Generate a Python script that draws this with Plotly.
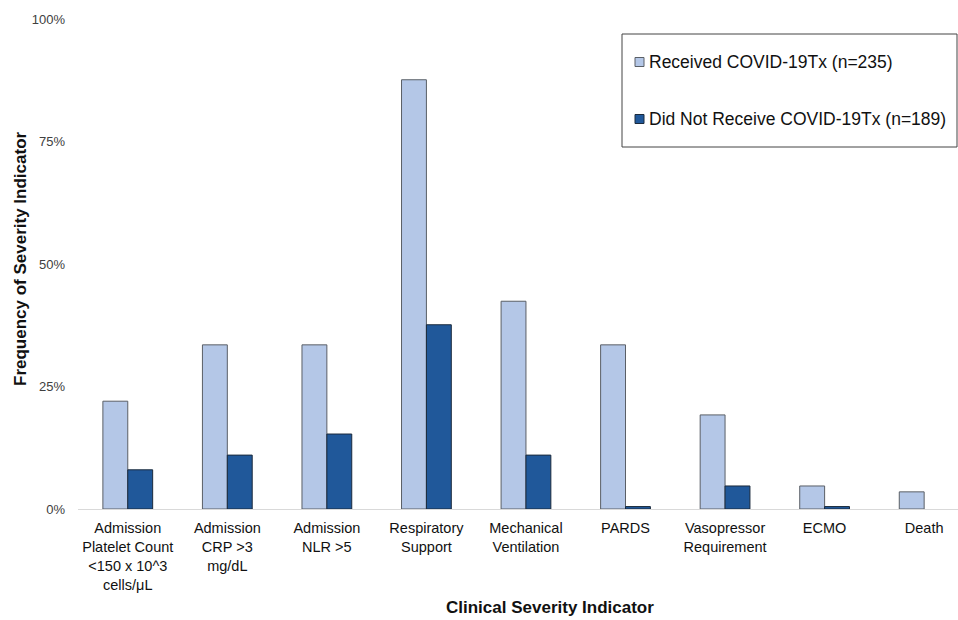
import plotly.graph_objects as go

categories = [
    "Admission<br>Platelet Count<br>&lt;150 x 10^3<br>cells/μL",
    "Admission<br>CRP &gt;3<br>mg/dL",
    "Admission<br>NLR &gt;5",
    "Respiratory<br>Support",
    "Mechanical<br>Ventilation",
    "PARDS",
    "Vasopressor<br>Requirement",
    "ECMO",
    "Death",
]
received = [22.0, 33.5, 33.5, 87.6, 42.4, 33.5, 19.2, 4.7, 3.5]
not_received = [8.0, 11.0, 15.3, 37.6, 11.0, 0.5, 4.7, 0.5, 0.0]
series_names = ["Received COVID-19Tx (n=235)", "Did Not Receive COVID-19Tx (n=189)"]
series_colors = ["#B4C7E7", "#20589A"]
series_edges = ["#5a5f66", "#1b2a3c"]
y_ticks = [0, 25, 50, 75, 100]
y_ticklabels = ["0%", "25%", "50%", "75%", "100%"]

W, H = 958, 620
L, R, T, B = 78, 0, 19, 111
PW, PH = W - L - R, H - T - B


def px(xp):
    return (xp - L) / PW


def py(yp):
    return (H - B - yp) / PH


x = list(range(len(categories)))

fig = go.Figure()
for name, vals, col, edge in zip(series_names, [received, not_received], series_colors, series_edges):
    # no outline for zero-height bars (so nothing is drawn there)
    widths = [1 if v > 0 else 0 for v in vals]
    fig.add_trace(go.Bar(
        x=x, y=vals, name=name,
        marker=dict(color=col, line=dict(color=edge, width=widths)),
    ))

shapes = [
    dict(type="rect", xref="paper", yref="paper",
         x0=px(622), x1=px(957), y0=py(147), y1=py(34),
         line=dict(color="#444", width=1), fillcolor="white", layer="above"),
]
annotations = [
    dict(text="<b>Frequency of Severity Indicator</b>", xref="paper", yref="paper",
         x=px(20), y=py(259), textangle=-90, showarrow=False,
         font=dict(size=17, color="#111"), xanchor="center", yanchor="middle"),
    dict(text="<b>Clinical Severity Indicator</b>", xref="paper", yref="paper",
         x=px(550), y=py(607), showarrow=False,
         font=dict(size=17, color="#111"), xanchor="center", yanchor="middle"),
]
for i, (name, col, edge) in enumerate(zip(series_names, series_colors, series_edges)):
    cy = 62 + i * 57
    shapes.append(dict(type="rect", xref="paper", yref="paper",
                       x0=px(635), x1=px(644), y0=py(cy + 4.5), y1=py(cy - 4.5),
                       line=dict(color=edge, width=1), fillcolor=col, layer="above"))
    annotations.append(dict(text=name, xref="paper", yref="paper",
                            x=px(647), y=py(cy), showarrow=False,
                            xanchor="left", yanchor="middle",
                            font=dict(size=17.5, color="#111")))

fig.update_layout(
    width=W, height=H,
    margin=dict(l=L, r=R, t=T, b=B, autoexpand=False),
    paper_bgcolor="white", plot_bgcolor="white",
    barmode="group", bargap=0.5, bargroupgap=0,
    font=dict(family="Liberation Sans, Arial, sans-serif", color="#222"),
    showlegend=False,
    shapes=shapes,
    annotations=annotations,
    xaxis=dict(
        tickmode="array", tickvals=x, ticktext=categories,
        range=[-0.5, 8.34], showgrid=False, automargin=False,
        showline=True, linecolor="#d9d9d9", linewidth=1,
        ticks="", tickangle=0, ticklabelstandoff=6,
        tickfont=dict(size=14.5, color="#111"),
    ),
    yaxis=dict(
        range=[0, 100], tickvals=y_ticks, ticktext=y_ticklabels,
        showgrid=False, zeroline=False, showline=False, automargin=False,
        ticks="", ticklabelstandoff=12,
        tickfont=dict(size=13, color="#404040"),
    ),
)

fig.write_html(
    "out.html",
    config={"displayModeBar": False},
    post_script="document.body.style.margin='0';document.body.style.overflow='hidden';",
)
